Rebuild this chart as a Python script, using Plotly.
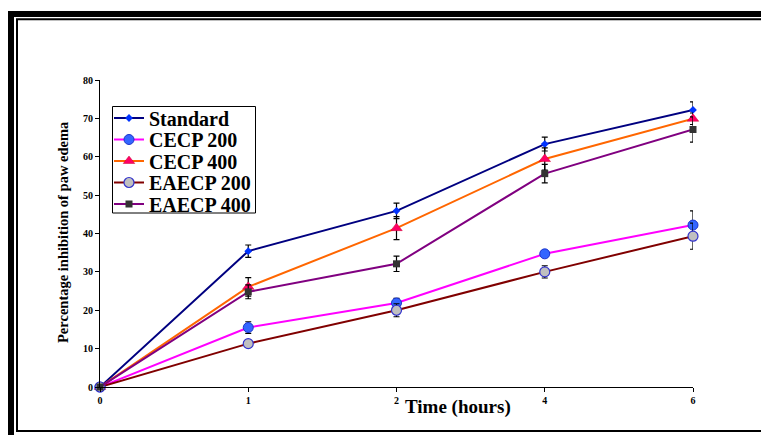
import plotly.graph_objects as go

# ---- data ----
time_labels = ["0", "1", "2", "4", "6"]
positions = [0, 1, 2, 3, 4]

standard = [0, 35.4, 45.9, 63.3, 72.2]
standard_err = [0, 1.6, 2.0, 1.8, 2.1]

cecp200 = [0, 15.5, 21.9, 34.7, 42.2]
cecp200_err = [0, 1.5, 1.2, 0.8, 3.7]

cecp400 = [0, 26.1, 41.4, 59.4, 69.9]
cecp400_err = [0, 2.4, 3.0, 2.9, 1.5]

eaecp200 = [0, 11.3, 20.0, 30.0, 39.3]
eaecp200_err = [0, 1.0, 1.7, 1.6, 3.4]

eaecp400 = [0, 24.8, 32.1, 55.6, 67.1]
eaecp400_err = [0, 1.8, 2.0, 2.4, 3.3]

y_ticks = [0, 10, 20, 30, 40, 50, 60, 70, 80]

FONT = "Liberation Serif, Times New Roman, serif"

series = [
    ("Standard", standard, standard_err, "#000080", dict(symbol="diamond", size=6, color="#0033FF", line=dict(width=0))),
    ("CECP 200", cecp200, cecp200_err, "#FF00FF", dict(symbol="circle", size=10, color="#3366FF", line=dict(width=1, color="#1a33cc"))),
    ("CECP 400", cecp400, cecp400_err, "#FF6600", dict(symbol="triangle-up", size=10, color="#FF0066", line=dict(width=0.5, color="#cc0033"))),
    ("EAECP 200", eaecp200, eaecp200_err, "#800000", dict(symbol="circle", size=10, color="#C0C0C0", line=dict(width=1.2, color="#3333CC"))),
    ("EAECP 400", eaecp400, eaecp400_err, "#800080", dict(symbol="square", size=7, color="#333333", line=dict(width=0))),
]

# page has an 8px body margin: figure origin sits at window (8, 8)
OFF = 8
W, H = 769 - OFF, 435 - OFF
# plot area in window pixels: x 100..693, y 80..387
L, R, T, B = 100 - OFF, 769 - 693, 80 - OFF, 435 - 387
pw, ph = W - L - R, H - T - B

def px(x):
    return (x - OFF - L) / pw

def py(y):
    return (H - B - (y - OFF)) / ph

legend_rows = [118, 139.5, 161, 182.5, 204]
legend_ids = ["legend", "legend2", "legend3", "legend4", "legend5"]

fig = go.Figure()
for (name, vals, errs, lc, mk), lid in zip(series, legend_ids):
    fig.add_trace(go.Scatter(
        x=positions, y=vals, name=f"<b>{name}</b>", mode="lines+markers",
        line=dict(color=lc, width=2),
        marker=mk,
        error_y=dict(type="data", array=errs, visible=True, color="black", thickness=1.2, width=3),
        cliponaxis=False,
        legend=lid,
    ))

legends = {}
for lid, row in zip(legend_ids, legend_rows):
    legends[lid] = dict(
        x=px(109), y=py(row), xanchor="left", yanchor="middle",
        bgcolor="rgba(0,0,0,0)", borderwidth=0,
        font=dict(family=FONT, size=20, color="black"),
        itemwidth=30, tracegroupgap=0,
    )

shapes = [
    # thick outer frame (top and left)
    dict(type="rect", xref="paper", yref="paper", x0=px(8), x1=px(775), y0=py(17), y1=py(11),
         fillcolor="black", line=dict(width=0), layer="above"),
    dict(type="rect", xref="paper", yref="paper", x0=px(8), x1=px(14), y0=py(440), y1=py(11),
         fillcolor="black", line=dict(width=0), layer="above"),
    # inner thin frame
    dict(type="rect", xref="paper", yref="paper", x0=px(17), x1=px(780), y0=py(431), y1=py(19.3),
         fillcolor="rgba(0,0,0,0)", line=dict(width=2, color="black"), layer="above"),
    # legend box
    dict(type="rect", xref="paper", yref="paper", x0=px(112.5), x1=px(255.5), y0=py(213), y1=py(106.5),
         fillcolor="white", line=dict(width=1, color="black"), layer="above"),
]

fig.update_layout(
    width=W, height=H,
    margin=dict(l=L, r=R, t=T, b=B),
    paper_bgcolor="white", plot_bgcolor="white",
    font=dict(family=FONT, color="black"),
    showlegend=True,
    xaxis=dict(
        range=[0, 4], tickmode="array", tickvals=positions,
        ticktext=[f"<b>{t}</b>" for t in time_labels],
        showline=True, linecolor="black", linewidth=1,
        ticks="outside", ticklen=4, tickcolor="black",
        showgrid=False, zeroline=False,
        tickfont=dict(family=FONT, size=10, color="black"),
    ),
    yaxis=dict(
        range=[0, 80], tickmode="array", tickvals=y_ticks,
        ticktext=[f"<b>{t}</b>" for t in y_ticks],
        showline=True, linecolor="black", linewidth=1,
        ticks="outside", ticklen=4, tickcolor="black",
        showgrid=False, zeroline=False,
        tickfont=dict(family=FONT, size=10, color="black"),
    ),
    shapes=shapes,
    annotations=[
        dict(text="<b>Time (hours)</b>", xref="paper", yref="paper",
             x=px(458), y=py(407), xanchor="center", yanchor="middle",
             showarrow=False, font=dict(family=FONT, size=19, color="black")),
        dict(text="<b>Percentage inhibition of paw edema</b>", xref="paper", yref="paper",
             x=px(63), y=py(232), xanchor="center", yanchor="middle", textangle=-90,
             showarrow=False, font=dict(family=FONT, size=14.5, color="black")),
    ],
    **legends,
)

fig.write_html("out.html")
